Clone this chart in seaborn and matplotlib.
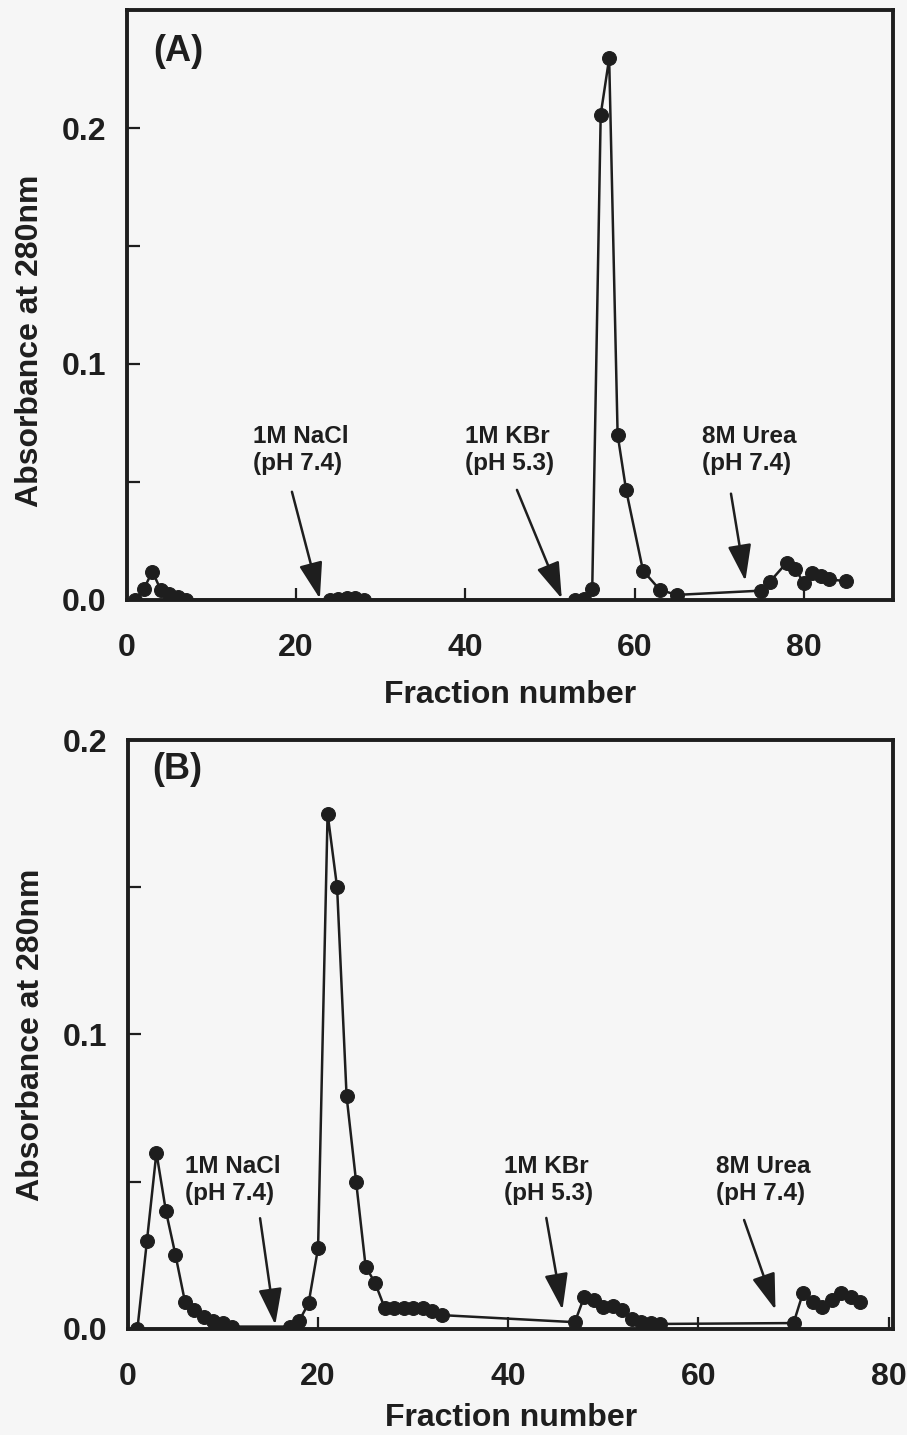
import matplotlib
matplotlib.use("Agg")
import matplotlib.pyplot as plt
import seaborn as sns

# Panel (A) - elution profile
frac_a = [1, 2, 3, 4, 5, 6, 7, 24, 25, 26, 27, 28,
          53, 54, 55, 56, 57, 58, 59, 61, 63, 65,
          75, 76, 78, 79, 80, 81, 82, 83, 85]
abs_a = [0.0, 0.0047, 0.012, 0.0042, 0.0025, 0.0011, 0.0, 0.0, 0.0005, 0.0008, 0.0008, 0.0,
         0.0, 0.0005, 0.0047, 0.2057, 0.2295, 0.070, 0.0466, 0.0124, 0.0042, 0.0021,
         0.0039, 0.0077, 0.0158, 0.013, 0.0073, 0.0113, 0.0102, 0.0088, 0.0078]

# Panel (B) - elution profile
frac_b = [1, 2, 3, 4, 5, 6, 7, 8, 9, 10, 11,
          17, 18, 19, 20, 21, 22, 23, 24, 25, 26, 27, 28, 29, 30, 31, 32, 33,
          47, 48, 49, 50, 51, 52, 53, 54, 55, 56,
          70, 71, 72, 73, 74, 75, 76, 77]
abs_b = [0.0, 0.0298, 0.0599, 0.040, 0.0252, 0.0093, 0.0065, 0.0042, 0.0027, 0.0019, 0.0008,
         0.0008, 0.0027, 0.0087, 0.0275, 0.175, 0.150, 0.079, 0.050, 0.0212, 0.0156,
         0.0072, 0.0072, 0.0072, 0.0072, 0.0072, 0.006, 0.0047,
         0.0023, 0.011, 0.010, 0.0073, 0.0077, 0.0063, 0.0035, 0.0023, 0.002, 0.0017,
         0.002, 0.0123, 0.009, 0.0073, 0.010, 0.0123, 0.0107, 0.0093]

eluents = ["1M NaCl\n(pH 7.4)", "1M KBr\n(pH 5.3)", "8M Urea\n(pH 7.4)"]
x_ticks = [0, 20, 40, 60, 80]
x_label = "Fraction number"
y_label = "Absorbance at 280nm"

INK = "#1e1e1e"
BG = "#f6f6f6"

sns.set_style("ticks")
plt.rcParams["font.family"] = ["Liberation Sans", "DejaVu Sans"]
plt.rcParams["font.weight"] = "bold"
plt.rcParams["axes.labelweight"] = "bold"

fig = plt.figure(figsize=(9.07, 14.35), dpi=100, facecolor=BG)
ax_a = fig.add_axes([0.140, 0.582, 0.845, 0.411])
ax_b = fig.add_axes([0.141, 0.0739, 0.844, 0.4104])


def style_axes(ax, xmax, ymax, yticks, ylab_pos, xpad):
    ax.set_facecolor(BG)
    ax.set_xlim(0, xmax)
    ax.set_ylim(0, ymax)
    ax.set_xticks(x_ticks)
    ax.set_yticks(yticks)
    ax.set_yticklabels(["%.1f" % t if abs(t * 10 - round(t * 10)) < 1e-6 else "" for t in yticks])
    for s in ax.spines.values():
        s.set_linewidth(2.8)
        s.set_color(INK)
        s.set_visible(True)
    ax.tick_params(axis="both", direction="in", length=9, width=1.6, color=INK,
                   labelsize=23, labelcolor=INK)
    ax.tick_params(axis="y", pad=15)
    ax.tick_params(axis="x", pad=24)
    ax.set_xlabel(x_label, fontsize=23, color=INK, labelpad=xpad)
    ax.set_ylabel(y_label, fontsize=23, color=INK)
    ax.yaxis.set_label_coords(-0.107, ylab_pos)


def draw_arrow(ax, tail, head):
    ax.annotate("", xy=head, xytext=tail,
                arrowprops=dict(arrowstyle="-|>,head_length=0.8,head_width=0.26",
                                mutation_scale=28, lw=1.8, color=INK,
                                shrinkA=0, shrinkB=0))


def draw_profile(ax, fr, ab):
    sns.lineplot(x=fr, y=ab, ax=ax, color=INK, lw=1.8, marker="o", markersize=10,
                 markeredgecolor=INK, markerfacecolor=INK, estimator=None, sort=False)


# (A)
draw_profile(ax_a, frac_a, abs_a)
style_axes(ax_a, 90.6, 0.25, [0, 0.05, 0.1, 0.15, 0.2], 0.44, 12)
ax_a.text(3.1, 0.2326, "(A)", fontsize=26, color=INK, ha="left", va="center")
for lbl, xl in zip(eluents, [14.9, 39.9, 68.0]):
    ax_a.text(xl, 0.0636, lbl, fontsize=17.5, color=INK, ha="left", va="center",
              multialignment="left", linespacing=1.2)
draw_arrow(ax_a, (19.5, 0.0458), (22.8, 0.0005))
draw_arrow(ax_a, (46.1, 0.0466), (51.4, 0.0005))
draw_arrow(ax_a, (71.4, 0.045), (73.1, 0.008))

# (B)
draw_profile(ax_b, frac_b, abs_b)
style_axes(ax_b, 80.5, 0.2, [0, 0.05, 0.1, 0.15, 0.2], 0.5, 8)
ax_b.text(2.6, 0.190, "(B)", fontsize=26, color=INK, ha="left", va="center")
for lbl, xl in zip(eluents, [6.0, 39.5, 61.8]):
    ax_b.text(xl, 0.0506, lbl, fontsize=17.5, color=INK, ha="left", va="center",
              multialignment="left", linespacing=1.2)
draw_arrow(ax_b, (13.9, 0.0376), (15.5, 0.0014))
draw_arrow(ax_b, (44.0, 0.0377), (45.7, 0.0065))
draw_arrow(ax_b, (64.8, 0.037), (68.1, 0.0065))

fig.savefig("out.png", dpi=100, facecolor=BG)
